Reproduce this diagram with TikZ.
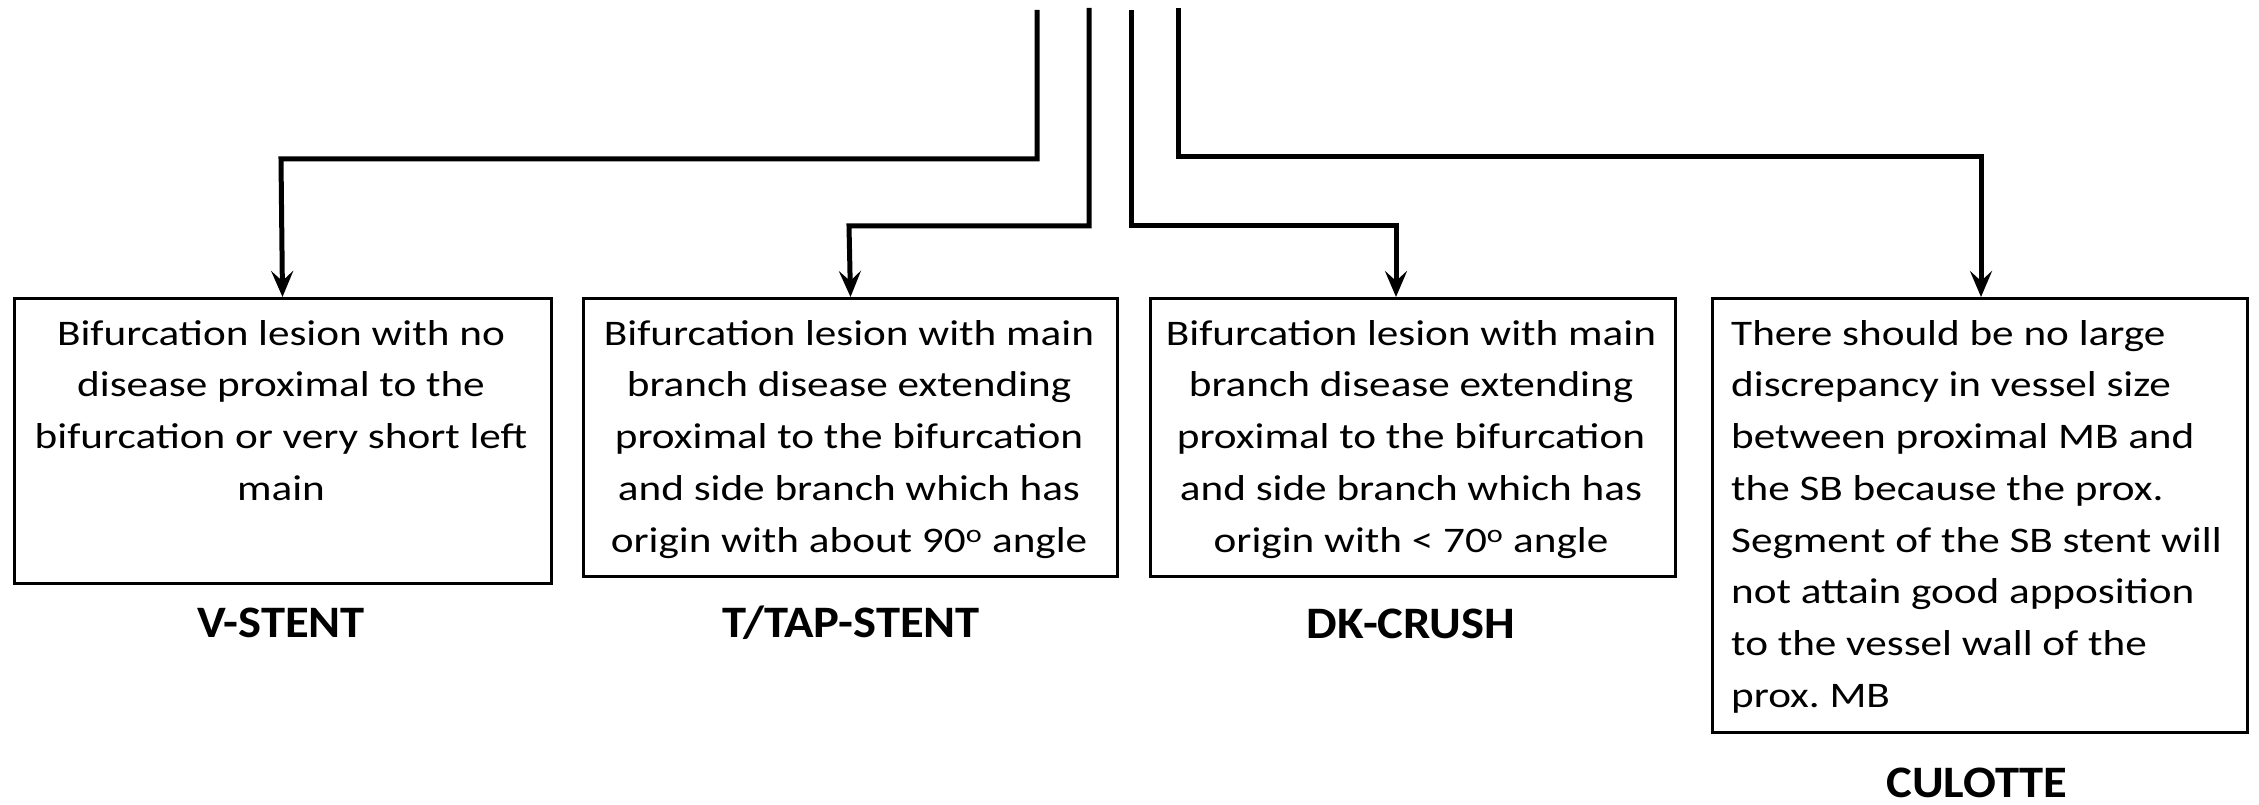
\documentclass[tikz,border=0pt]{standalone}
\usepackage{fontspec}
\setmainfont{Carlito}[FakeStretch=1.2]
\newfontfamily\lblfont{Carlito}[FakeStretch=1.08]
\usetikzlibrary{arrows.meta,calc}
\frenchspacing
\begin{document}
\begin{tikzpicture}[x=1pt,y=-1pt,
  conn/.style={line width=5pt,-{Stealth[length=26pt,width=22pt,inset=10pt]}},
  box/.style={draw,line width=3pt,rectangle,inner sep=0pt},
  btext/.style={inner sep=0pt,anchor=north,font=\fontsize{36}{51.7}\selectfont},
  lbl/.style={inner sep=0pt,font=\lblfont\fontsize{45}{50}\selectfont\bfseries}]
\useasboundingbox (0,0) rectangle (2259,805);
% boxes
\node[box,minimum width=537pt,minimum height=285pt,anchor=north west] (b1) at (12.5,297) {};
\node[box,minimum width=534pt,minimum height=278pt,anchor=north west] (b2) at (582,297) {};
\node[box,minimum width=524.5pt,minimum height=278pt,anchor=north west] (b3) at (1149,297) {};
\node[box,minimum width=535pt,minimum height=434pt,anchor=north west] (b4) at (1711,297) {};
% texts
\node[btext,align=center] (t1) at (281,320) {Bifurcation lesion with no\\disease proximal to the\\bifurcation or very short left\\main};
\node[btext,align=center] (t2) at (849,320) {Bifurcation lesion with main\\branch disease extending\\proximal to the bifurcation\\and side branch which has\\origin with about 90\textsuperscript{o} angle};
\node[btext,align=center] (t3) at (1411,320) {Bifurcation lesion with main\\branch disease extending\\proximal to the bifurcation\\and side branch which has\\origin with < 70\textsuperscript{o} angle};
\node[btext,align=left,anchor=north west] (t4) at (1731,320) {There should be no large\\discrepancy in vessel size\\between proximal MB and\\the SB because the prox.\\Segment of the SB stent will\\not attain good apposition\\to the vessel wall of the\\prox. MB};
% labels
\node[lbl] (l1) at (281,623) {V-STENT};
\node[lbl] (l2) at (851,623) {T/TAP-STENT};
\node[lbl] (l3) at (1411,624) {DK-CRUSH};
\node[lbl] (l4) at (1977,783) {CULOTTE};
% connector sources
\coordinate (s1) at (1037,10);
\coordinate (s2) at (1089,8);
\coordinate (s3) at (1131,10);
\coordinate (s4) at (1178,8);
\coordinate (e3) at (1396,297);
\coordinate (e4) at (1981,297);
\draw[conn] (s1) |- (281,159) -- (b1.north);
\draw[conn] (s2) |- (849,226) -- (b2.north);
\draw[conn] (s3) |- (1396,226) -- (e3);
\draw[conn] (s4) |- (1981,157) -- (e4);
\end{tikzpicture}
\end{document}
